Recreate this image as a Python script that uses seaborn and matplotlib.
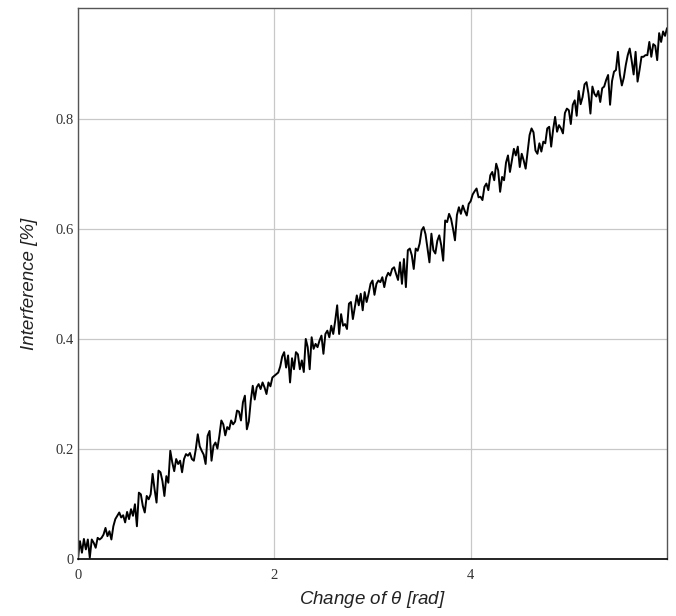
import numpy as np
import matplotlib
matplotlib.use("Agg")
import matplotlib.pyplot as plt
import seaborn as sns

# interference readings, one every 0.02 rad
seg_0_1 = [0.003, 0.033, 0.012, 0.037, 0.018, 0.036, 0.003, 0.036, 0.030, 0.021,
           0.039, 0.036, 0.039, 0.045, 0.057, 0.042, 0.051, 0.036, 0.060, 0.073,
           0.079, 0.085, 0.076, 0.080, 0.067, 0.086, 0.073, 0.091, 0.079, 0.100,
           0.060, 0.121, 0.118, 0.097, 0.085, 0.115, 0.109, 0.118, 0.155, 0.127,
           0.103, 0.161, 0.158, 0.142, 0.115, 0.151, 0.139, 0.197, 0.176, 0.160]
seg_1_2 = [0.182, 0.173, 0.179, 0.158, 0.182, 0.191, 0.188, 0.193, 0.182, 0.179,
           0.200, 0.227, 0.205, 0.197, 0.190, 0.173, 0.224, 0.233, 0.179, 0.206,
           0.212, 0.201, 0.224, 0.252, 0.245, 0.225, 0.240, 0.236, 0.252, 0.245,
           0.250, 0.270, 0.268, 0.252, 0.285, 0.297, 0.236, 0.250, 0.288, 0.315,
           0.290, 0.312, 0.318, 0.309, 0.321, 0.312, 0.300, 0.321, 0.314, 0.330]
seg_2_3 = [0.333, 0.336, 0.339, 0.350, 0.368, 0.376, 0.348, 0.370, 0.321, 0.365,
           0.345, 0.376, 0.372, 0.345, 0.361, 0.340, 0.400, 0.385, 0.345, 0.403,
           0.382, 0.391, 0.385, 0.397, 0.406, 0.373, 0.409, 0.415, 0.403, 0.424,
           0.409, 0.433, 0.461, 0.409, 0.445, 0.424, 0.427, 0.418, 0.464, 0.467,
           0.436, 0.458, 0.479, 0.461, 0.482, 0.452, 0.485, 0.467, 0.482, 0.500]
seg_3_4 = [0.506, 0.480, 0.500, 0.506, 0.503, 0.512, 0.494, 0.512, 0.520, 0.515,
           0.527, 0.530, 0.518, 0.507, 0.539, 0.500, 0.545, 0.494, 0.561, 0.564,
           0.552, 0.527, 0.564, 0.560, 0.573, 0.597, 0.603, 0.590, 0.565, 0.539,
           0.591, 0.561, 0.555, 0.578, 0.588, 0.570, 0.542, 0.615, 0.612, 0.627,
           0.618, 0.600, 0.579, 0.625, 0.639, 0.627, 0.642, 0.632, 0.624, 0.645]
seg_4_5 = [0.650, 0.662, 0.668, 0.673, 0.657, 0.658, 0.652, 0.676, 0.682, 0.670,
           0.697, 0.703, 0.688, 0.718, 0.706, 0.667, 0.694, 0.688, 0.720, 0.733,
           0.703, 0.724, 0.745, 0.733, 0.749, 0.712, 0.736, 0.724, 0.709, 0.740,
           0.770, 0.782, 0.775, 0.742, 0.736, 0.755, 0.740, 0.758, 0.755, 0.782,
           0.785, 0.749, 0.780, 0.803, 0.776, 0.788, 0.782, 0.773, 0.810, 0.818]
seg_5_6 = [0.815, 0.790, 0.825, 0.833, 0.805, 0.850, 0.826, 0.839, 0.862, 0.866,
           0.845, 0.809, 0.858, 0.845, 0.840, 0.850, 0.830, 0.855, 0.858, 0.870,
           0.879, 0.825, 0.868, 0.885, 0.888, 0.921, 0.880, 0.860, 0.874, 0.897,
           0.915, 0.927, 0.905, 0.880, 0.921, 0.867, 0.888, 0.912, 0.912, 0.915,
           0.915, 0.939, 0.912, 0.935, 0.932, 0.906, 0.955, 0.939, 0.958, 0.950,
           0.964]

interference = seg_0_1 + seg_1_2 + seg_2_3 + seg_3_4 + seg_4_5 + seg_5_6
theta = np.round(np.arange(len(interference)) * 0.02, 2)

x_ticks = [0, 2, 4]
y_ticks = [0, 0.2, 0.4, 0.6, 0.8]
y_tick_labels = ["0", "0.2", "0.4", "0.6", "0.8"]

sns.set_theme(style="whitegrid")
plt.rcParams["font.family"] = ["DejaVu Sans"]
plt.rcParams["mathtext.fontset"] = "custom"
plt.rcParams["mathtext.it"] = "Liberation Sans:italic"
plt.rcParams["mathtext.rm"] = "Liberation Sans"

fig = plt.figure(figsize=(6.76, 6.16), dpi=100)
ax = fig.add_axes([0.1154, 0.092, 0.8713, 0.8945])

sns.lineplot(x=theta, y=interference, estimator=None, color="black",
             linewidth=1.4, ax=ax)

ax.set_xlim(0, 6)
ax.set_ylim(0, 1.0)
ax.set_xticks(x_ticks)
ax.set_yticks(y_ticks)
ax.set_xticklabels([str(t) for t in x_ticks], family="Liberation Serif",
                   fontsize=10.5, color="#333333")
ax.set_yticklabels(y_tick_labels, family="Liberation Serif",
                   fontsize=10.5, color="#333333")
ax.tick_params(axis="x", length=0, pad=7)
ax.tick_params(axis="y", length=0, pad=3)

ax.grid(True, color="#c8c8c8", linewidth=0.9)
ax.set_facecolor("white")
for side in ["left", "top", "right"]:
    ax.spines[side].set_color("#555555")
    ax.spines[side].set_linewidth(1.0)
ax.spines["bottom"].set_color("black")
ax.spines["bottom"].set_linewidth(1.2)

ax.set_xlabel(r"Change of $\theta$ [rad]", family="Liberation Sans",
              style="italic", fontsize=13.5, color="#222222", labelpad=5)
ax.set_ylabel("Interference [%]", family="Liberation Sans",
              style="italic", fontsize=13.5, color="#222222", labelpad=13)

fig.savefig("out.png", dpi=100, facecolor="white")
